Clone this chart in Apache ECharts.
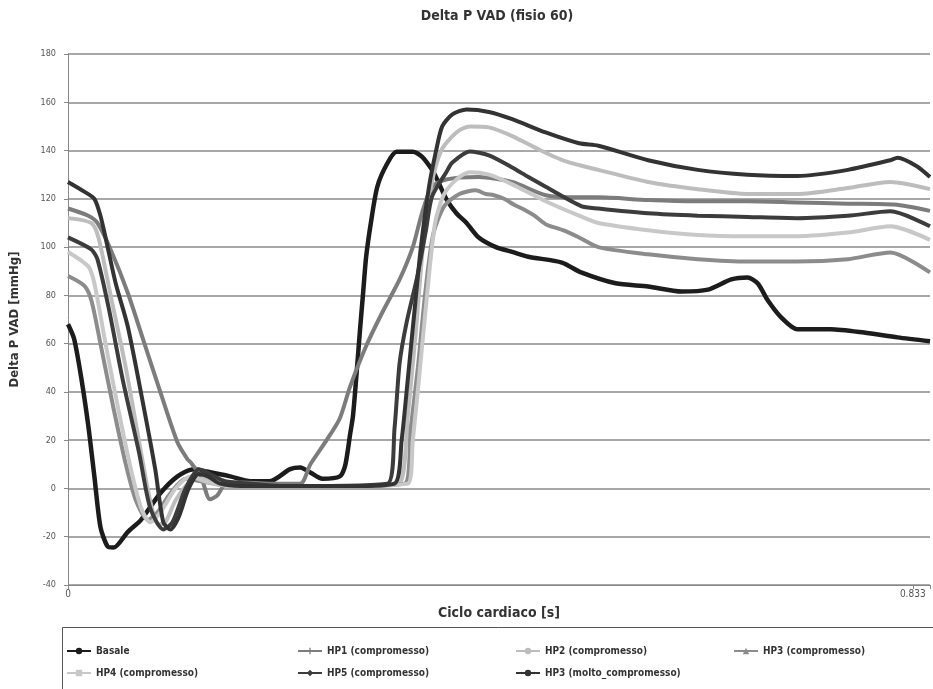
<!DOCTYPE html>
<html><head><meta charset="utf-8">
<script src="https://cdn.jsdelivr.net/npm/echarts@6/dist/echarts.min.js"></script>
<style>html,body{margin:0;padding:0;background:#fff}#c{width:933px;height:689px}</style>
</head><body><div id="c"></div>
<script>
// time in milliseconds, pressure in mmHg
const seriesNames = ['Basale','HP1 (compromesso)','HP2 (compromesso)','HP3 (compromesso)','HP4 (compromesso)','HP5 (compromesso)','HP3 (molto_compromesso)'];
const yTicks = [-40,-20,0,20,40,60,80,100,120,140,160,180];
const xTickLabels = ['0','0.833'];

const basale = [[0,68],[6,62],[13,46],[20,26],[26,5],[32,-16],[39,-24],[45,-24.5],[59,-18],[72,-13],[91,-2],[108,5],[124,8],[137,7],[160,5],[180,3],[199,3],[219,8],[229,8.7],[239,6.6],[251,4],[268,5],[273,9],[276,16],[278,22],[281,30],[285,50],[288,66],[291,81],[294,96],[299,111],[305,125],[314,134],[324,139.5],[340,139.5],[349,137.5],[359,132],[364,128],[373,120],[383,114],[393,110],[405,104],[422,100],[438,98],[454,96],[487,93.6],[506,89.5],[540,85],[572,83.7],[605,81.6],[631,82.4],[654,86.6],[670,87.4],[680,85],[690,78],[703,71],[719,66],[752,66],[785,64.6],[818,62.6],[850,61]];
const hp1 = [[0,116],[20,113],[29,110],[42,99],[59,81],[75,60.5],[91,40],[108,19],[118,12],[121,10.8],[131,5],[140,-4.5],[147,-3],[157,2.5],[173,2.5],[199,2],[229,2],[239,10],[255,20],[268,29],[278,42],[294,59],[310,73],[327,86.6],[340,100],[349,114],[359,125],[373,128],[405,129],[438,127],[471,121.5],[504,120.6],[523,120.6],[572,119.5],[621,119],[670,119],[719,118.5],[769,118],[815,117.6],[850,115]];
const hp2 = [[0,112],[23,110],[30,104],[42,80],[57,50],[72,15],[81,-5],[89,-15],[96,-14],[106,-5],[121,3],[135,4],[150,2],[200,1],[300,1],[327,2],[335,30],[343,65],[350,100],[358,125],[368,140],[383,147.5],[396,150],[415,149.6],[438,146],[464,140.5],[491,135.5],[523,132],[572,127],[621,124],[670,122],[719,122],[769,124.5],[811,127],[850,124]];
const hp3 = [[0,88],[16,84],[23,78],[32,60],[44,35],[57,10],[67,-5],[79,-13],[88,-10],[101,-2],[116,4],[131,3],[160,1],[250,1],[332,2],[338,25],[345,50],[352,80],[360,105],[371,117],[386,122],[402,123.5],[412,122],[420,121.5],[430,120],[440,117.5],[450,115.5],[460,113],[471,109.5],[488,107],[504,104],[523,100],[572,97],[621,95],[670,94],[719,94],[769,95],[811,97.8],[850,89.5]];
const hp4 = [[0,98],[20,92],[26,85],[37,60],[50,32],[62,8],[72,-8],[81,-14],[91,-10],[106,0],[121,5],[135,3],[160,1],[250,1],[335,2],[340,20],[346,45],[354,80],[362,110],[371,122],[383,128],[396,131],[415,130],[438,126],[471,119],[504,113],[523,110],[572,107],[621,105],[670,104.5],[719,104.5],[769,106],[811,108.6],[850,103]];
const hp5 = [[0,104],[23,99],[29,95],[40,75],[54,45],[70,15],[81,-8],[94,-17],[103,-14],[116,0],[129,8],[140,6],[155,3],[180,2],[209,1],[315,2],[322,25],[327,52],[334,69],[344,87],[353,107],[359,121],[373,131],[379,135],[396,139.6],[415,138],[438,133],[454,129],[471,125],[506,117],[523,116],[572,114],[621,113],[670,112.5],[719,112],[769,113],[811,114.8],[850,108.6]];
const hp3molto = [[0,127],[16,123],[26,120],[32,113],[37,104],[47,85],[59,67],[75,33],[86,8],[94,-14],[101,-17],[109,-12],[119,0],[129,6],[138,5],[150,2],[170,1],[229,1],[280,1],[322,2],[329,20],[335,45],[342,75],[348,100],[356,125],[363,140],[369,150],[379,155],[393,157],[415,156],[438,153],[471,147.5],[504,143],[523,142],[572,136],[621,132],[670,130],[719,129.5],[769,132],[811,136],[818,137],[837,133.5],[850,129]];

const allData = [basale, hp1, hp2, hp3, hp4, hp5, hp3molto];
const colors = ['#1c1c1c','#7c7c7c','#bdbdbd','#8c8c8c','#c8c8c8','#3c3c3c','#333333'];
const symbols = ['circle','path://M4,0H6V4H10V6H6V10H4V6H0V4H4Z','none','triangle','rect','diamond','none'];
const widths = [4.5,4,4,4,4,4,4];

const FONT = "'Liberation Sans Narrow','Arial Narrow','DejaVu Sans Condensed',sans-serif";

const chart = echarts.init(document.getElementById('c'), null, {renderer:'canvas'});

const legendPos = [[66,646],[297,646],[515,646],[733,646],[66,668],[297,668],[515,668]];
const legends = seriesNames.map((n,i)=>({
  data:[n], left:legendPos[i][0], top:legendPos[i][1], padding:0,
  itemWidth:24, itemHeight:8, itemGap:4,
  textStyle:{fontFamily:FONT, fontSize:10, fontWeight:'bold', color:'#333'}
}));

const option = {
  animation:false,
  backgroundColor:'#fff',
  grid:{left:67, right:0, top:54, bottom:104, containLabel:false},
  legend: legends,
  graphic:[
    {type:'text', x:497, y:16, style:{text:'Delta P VAD (fisio 60)', align:'center', verticalAlign:'middle', fontFamily:FONT, fontSize:14, fontWeight:'bold', fill:'#333'}},
    {type:'rect', shape:{x:62.5, y:627.5, width:900, height:80}, style:{fill:'none', stroke:'#555', lineWidth:1}, z:-1}
  ],
  xAxis:{
    type:'value', min:0, max:850, interval:833,
    name:'Ciclo cardiaco [s]', nameLocation:'middle', nameGap:21,
    nameTextStyle:{fontFamily:FONT, fontSize:14, fontWeight:'bold', color:'#333'},
    axisLine:{show:true, onZero:false, lineStyle:{color:'#888', width:1}},
    axisTick:{show:true, length:4, lineStyle:{color:'#888'}},
    splitLine:{show:false},
    axisLabel:{fontFamily:FONT, fontSize:10, color:'#555', margin:4,
      formatter:v=> v===0 ? xTickLabels[0] : (v===833 ? xTickLabels[1] : ''), showMaxLabel:true}
  },
  yAxis:{
    type:'value', min:yTicks[0], max:yTicks[yTicks.length-1], interval:20,
    name:'Delta P VAD [mmHg]', nameLocation:'middle', nameGap:47,
    nameTextStyle:{fontFamily:FONT, fontSize:13, fontWeight:'bold', color:'#333'},
    axisLine:{show:true, onZero:false, lineStyle:{color:'#888', width:1}},
    axisTick:{show:true, length:4, lineStyle:{color:'#888'}},
    splitLine:{show:true, lineStyle:{color:'#a8a8a8', width:2}},
    axisLabel:{fontFamily:FONT, fontSize:9, color:'#555', margin:12}
  },
  series: seriesNames.map((n,i)=>({
    name:n, type:'line', data:allData[i],
    symbol:symbols[i], symbolSize:7, showSymbol:false,
    smooth:0.25,
    lineStyle:{color:colors[i], width:widths[i]},
    itemStyle:{color:colors[i]},
    emphasis:{disabled:true},
    z:2+i
  }))
};
chart.setOption(option);
</script>
</body></html>
